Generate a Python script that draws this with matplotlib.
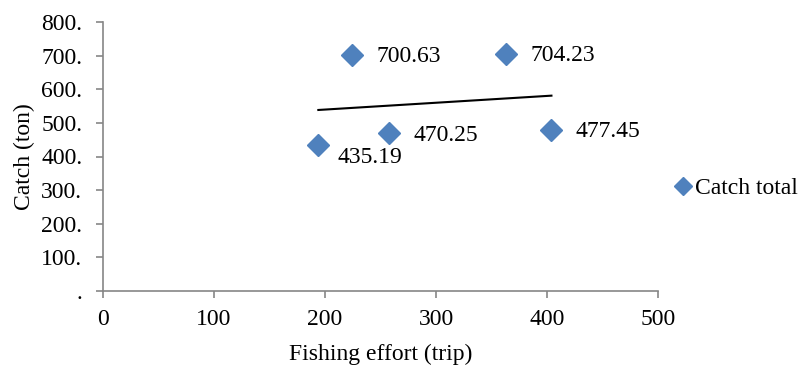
import matplotlib
matplotlib.use("Agg")
import matplotlib.pyplot as plt
import numpy as np
from matplotlib.lines import Line2D

plt.rcParams['font.family'] = ['Liberation Serif', 'DejaVu Serif']

effort = [194, 224, 258, 363, 404]
catch = [435.19, 700.63, 470.25, 704.23, 477.45]
point_labels = ["435.19", "700.63", "470.25", "704.23", "477.45"]
x_ticks = [0, 100, 200, 300, 400, 500]
x_tick_labels = ["0", "100", "200", "300", "400", "500"]
y_ticks = [0, 100, 200, 300, 400, 500, 600, 700, 800]
y_tick_labels = [".", "100.", "200.", "300.", "400.", "500.", "600.", "700.", "800."]
series_name = "Catch total"

blue = "#4F81BD"
axis_gray = "#868686"
fs = 17

fig = plt.figure(figsize=(7.99, 3.67), dpi=100)
ax = fig.add_axes([103/799, 1 - 291/367, (658 - 103)/799, (291 - 22)/367])

ax.plot(effort, catch, linestyle='none', marker='D', markersize=11,
        color=blue, markeredgecolor=blue, zorder=3)

# linear trend line
k, b = np.polyfit(effort, catch, 1)
xs = np.array([min(effort), max(effort)])
ax.plot(xs, k * xs + b, color='black', linewidth=1.5, zorder=2)

offsets = [(19, -13), (25, -1), (24, -3), (25, -1), (24, -1)]
for xv, yv, lab, off in zip(effort, catch, point_labels, offsets):
    ax.annotate(lab, (xv, yv), xytext=off, textcoords='offset pixels',
                ha='left', va='center', fontsize=fs, color='black')

ax.set_xlim(0, 500)
ax.set_ylim(0, 800)
ax.set_xticks(x_ticks)
ax.set_xticklabels(x_tick_labels, fontsize=fs)
ax.set_yticks(y_ticks)
ax.set_yticklabels(y_tick_labels, fontsize=fs)

for s in ['top', 'right']:
    ax.spines[s].set_visible(False)
for s in ['left', 'bottom']:
    ax.spines[s].set_color(axis_gray)
    ax.spines[s].set_linewidth(1.2)
ax.tick_params(axis='both', colors=axis_gray, labelcolor='black', length=5, width=1.2)
ax.tick_params(axis='y', pad=10)
ax.tick_params(axis='x', pad=8)

ax.set_xlabel("Fishing effort (trip)", fontsize=fs, labelpad=10)
ax.set_ylabel("Catch (ton)", fontsize=fs, labelpad=4)

# legend
handle = Line2D([], [], linestyle='none', marker='D', markersize=9, color=blue)
fig.legend([handle], [series_name], loc='center left',
           bbox_to_anchor=(675/799, 1 - 188/367), frameon=False,
           fontsize=fs, handlelength=0.7, handletextpad=0.15, borderpad=0,
           borderaxespad=0)

fig.savefig("out.png", dpi=100)
